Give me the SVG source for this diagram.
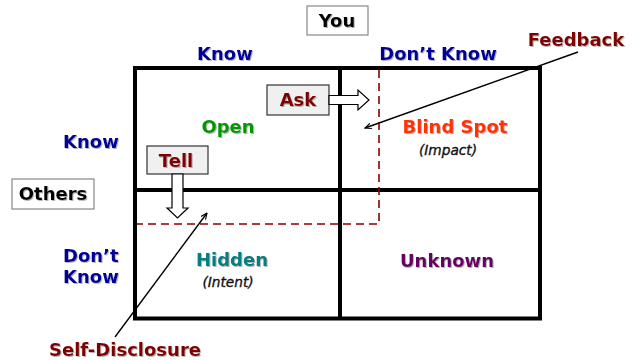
<svg xmlns="http://www.w3.org/2000/svg" width="639" height="360" viewBox="0 0 639 360">
  <style>
    text { font-family: "DejaVu Sans", Verdana, sans-serif; font-weight: bold; }
    .lbl { font-size: 18px; filter: url(#soft); }
    .blue { fill: #000099; }
    .red { fill: #800000; }
    .note { font-size: 13.7px; font-weight: normal; font-style: italic; fill: #111; stroke: #111; stroke-width: 0.35; }
    .grid { stroke: #000; stroke-width: 4; fill: none; }
    .tag { fill: #fff; stroke: #888; stroke-width: 1.2; }
    .act { fill: #f0f0f0; stroke: #333; stroke-width: 1.2; }
    .block { fill: #fff; stroke: #000; stroke-width: 1.2; }
    .dash { stroke: #8b0000; stroke-width: 1.6; stroke-dasharray: 8 5; fill: none; }
    .ptr { stroke: #000; stroke-width: 1.4; fill: none; marker-end: url(#head); }
  </style>
  <defs>
    <filter id="soft" x="-10%" y="-20%" width="130%" height="150%">
      <feDropShadow dx="1" dy="1" stdDeviation="0.7" flood-color="#777" flood-opacity="0.55"/>
    </filter>
    <marker id="head" viewBox="0 0 10 10" refX="9" refY="5" markerWidth="7" markerHeight="7" orient="auto" markerUnits="userSpaceOnUse">
      <path d="M0,1 L9,5 L0,9" fill="none" stroke="#000" stroke-width="1.6"/>
    </marker>
  </defs>

  <rect width="639" height="360" fill="#fff"/>

  <!-- window grid -->
  <g id="grid">
    <rect class="grid" x="135" y="68" width="405" height="250.5"/>
    <line class="grid" x1="340" y1="68" x2="340" y2="318.5"/>
    <line class="grid" x1="135" y1="190" x2="540" y2="190"/>
  </g>

  <!-- enlarged open area boundary -->
  <g id="open-boundary">
    <polyline class="dash" points="379,70 379,224 137,224"/>
  </g>

  <!-- axis labels -->
  <g id="you">
    <rect class="tag" x="307" y="6" width="61" height="29"/>
    <text class="lbl" x="337" y="27" text-anchor="middle" fill="#000">You</text>
  </g>
  <g id="others">
    <rect class="tag" x="12" y="179" width="82" height="30"/>
    <text class="lbl" x="53" y="200" text-anchor="middle" fill="#000">Others</text>
  </g>
  <g id="col-know"><text class="lbl blue" x="225" y="60" text-anchor="middle">Know</text></g>
  <g id="col-dont-know"><text class="lbl blue" x="438" y="60" text-anchor="middle">Don’t Know</text></g>
  <g id="row-know"><text class="lbl blue" x="91" y="148" text-anchor="middle">Know</text></g>
  <g id="row-dont-know">
    <text class="lbl blue" x="63" y="262">Don’t</text>
    <text class="lbl blue" x="63" y="283">Know</text>
  </g>

  <!-- quadrants -->
  <g id="open"><text class="lbl" x="228" y="133" text-anchor="middle" fill="#009900">Open</text></g>
  <g id="blind-spot">
    <text class="lbl" x="455" y="133" text-anchor="middle" fill="#ff3300">Blind Spot</text>
    <text class="note" x="448" y="155" text-anchor="middle">(Impact)</text>
  </g>
  <g id="hidden">
    <text class="lbl" x="232" y="266" text-anchor="middle" fill="#008080">Hidden</text>
    <text class="note" x="228" y="287" text-anchor="middle">(Intent)</text>
  </g>
  <g id="unknown"><text class="lbl" x="447" y="267" text-anchor="middle" fill="#660066">Unknown</text></g>

  <!-- actions -->
  <g id="ask">
    <rect class="act" x="267" y="85" width="62" height="30"/>
    <text class="lbl red" x="298" y="106" text-anchor="middle">Ask</text>
  </g>
  <g id="tell">
    <rect class="act" x="147" y="146" width="61" height="28"/>
    <text class="lbl red" x="176" y="167" text-anchor="middle">Tell</text>
  </g>
  <g id="feedback"><text class="lbl red" x="576" y="46" text-anchor="middle">Feedback</text></g>
  <g id="self-disclosure"><text class="lbl red" x="125" y="356" text-anchor="middle">Self-Disclosure</text></g>

  <!-- connectors -->
  <g id="connectors">
    <path class="block" d="M329,95.5 H358 V90 L369,100 L358,110 V104.5 H329 Z"/>
    <path class="block" d="M172,174 V208 H167 L177.5,218 L188,208 H183 V174 Z"/>
    <line class="ptr" x1="578" y1="52" x2="365" y2="128"/>
    <line class="ptr" x1="115" y1="337" x2="207" y2="213"/>
  </g>
</svg>
